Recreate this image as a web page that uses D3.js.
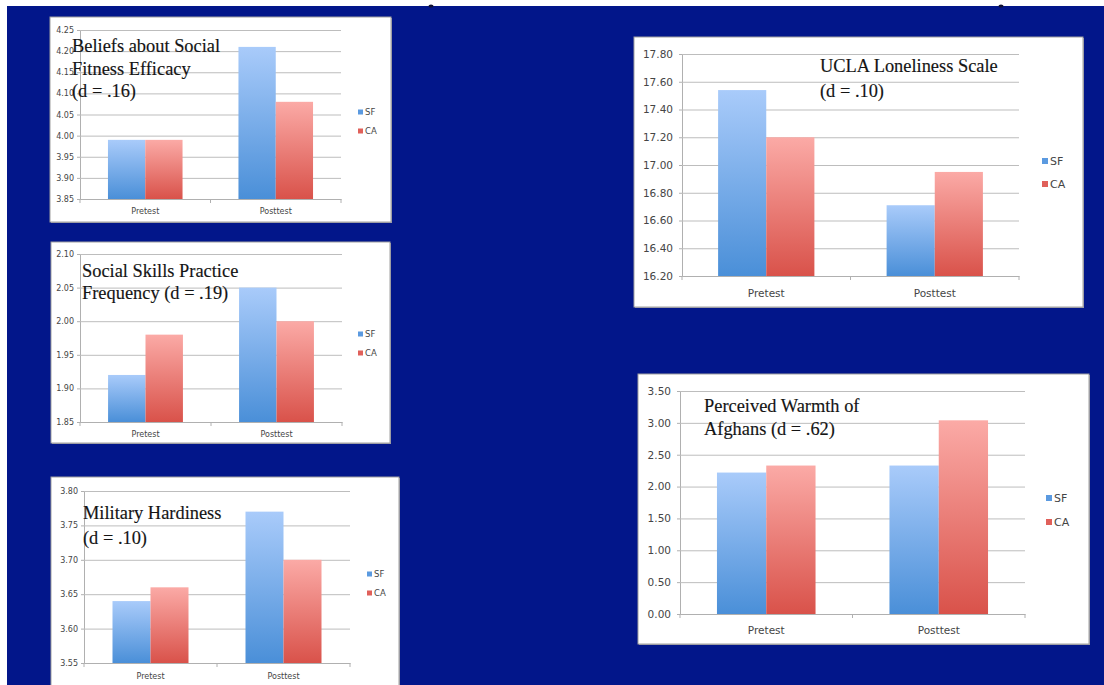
<!DOCTYPE html>
<html>
<head>
<meta charset="utf-8">
<script src="https://cdn.jsdelivr.net/npm/d3@7"></script>
<style>
  html, body { margin: 0; padding: 0; background: #ffffff; }
  svg { display: block; }
</style>
</head>
<body>
<svg id="chart" width="1104" height="685"></svg>
<script>
// ---------------- DATA ----------------
const categories = ["Pretest", "Posttest"];
const seriesNames = ["SF", "CA"];

const beliefsSF = [3.99, 4.21];
const beliefsCA = [3.99, 4.08];
const beliefsTicks = [3.85, 3.90, 3.95, 4.00, 4.05, 4.10, 4.15, 4.20, 4.25];
const beliefsTitle = ["Beliefs about Social", "Fitness Efficacy", "(d = .16)"];

const skillsSF = [1.92, 2.05];
const skillsCA = [1.98, 2.00];
const skillsTicks = [1.85, 1.90, 1.95, 2.00, 2.05, 2.10];
const skillsTitle = ["Social Skills Practice", "Frequency (d = .19)"];

const hardinessSF = [3.64, 3.77];
const hardinessCA = [3.66, 3.70];
const hardinessTicks = [3.55, 3.60, 3.65, 3.70, 3.75, 3.80];
const hardinessTitle = ["Military Hardiness", "(d = .10)"];

const lonelinessSF = [17.54, 16.71];
const lonelinessCA = [17.20, 16.95];
const lonelinessTicks = [16.20, 16.40, 16.60, 16.80, 17.00, 17.20, 17.40, 17.60, 17.80];
const lonelinessTitle = ["UCLA Loneliness Scale", "(d = .10)"];

const warmthSF = [2.22, 2.33];
const warmthCA = [2.33, 3.04];
const warmthTicks = [0.00, 0.50, 1.00, 1.50, 2.00, 2.50, 3.00, 3.50];
const warmthTitle = ["Perceived Warmth of", "Afghans (d = .62)"];

// ---------------- LAYOUT ----------------
const panels = [
  { sf: beliefsSF, ca: beliefsCA, ticks: beliefsTicks, title: beliefsTitle,
    box: [50, 17, 341, 205], plot: { l: 80, r: 341, t: 30, b: 199 }, fs: 8,
    legend: { x: 358, y1: 112, y2: 131, sq: 5 }, tx: 72, ty: 52, tdy: 22.7, catY: 211 },
  { sf: skillsSF, ca: skillsCA, ticks: skillsTicks, title: skillsTitle,
    box: [51, 242, 339, 201], plot: { l: 80, r: 342, t: 254, b: 422 }, fs: 8,
    legend: { x: 358, y1: 334, y2: 353, sq: 5 }, tx: 82, ty: 277, tdy: 21.7, catY: 434 },
  { sf: hardinessSF, ca: hardinessCA, ticks: hardinessTicks, title: hardinessTitle,
    box: [51, 477, 348, 240], plot: { l: 84, r: 350, t: 491, b: 663 }, fs: 8,
    legend: { x: 367, y1: 574, y2: 593, sq: 5 }, tx: 83, ty: 519, tdy: 25, catY: 676 },
  { sf: lonelinessSF, ca: lonelinessCA, ticks: lonelinessTicks, title: lonelinessTitle,
    box: [634, 37, 449, 270], plot: { l: 682, r: 1019, t: 54, b: 276 }, fs: 10.5,
    legend: { x: 1042, y1: 161, y2: 184, sq: 6 }, tx: 820, ty: 72, tdy: 24.7, catY: 293 },
  { sf: warmthSF, ca: warmthCA, ticks: warmthTicks, title: warmthTitle,
    box: [638, 374, 451, 270], plot: { l: 680, r: 1025, t: 391, b: 614 }, fs: 10.5,
    legend: { x: 1046, y1: 498, y2: 522, sq: 6 }, tx: 704, ty: 412, tdy: 23.3, catY: 630 }
];

const svg = d3.select("#chart");

// gradients
const defs = svg.append("defs");
function grad(id, top, bottom) {
  const g = defs.append("linearGradient").attr("id", id)
    .attr("x1", 0).attr("y1", 0).attr("x2", 0).attr("y2", 1);
  g.append("stop").attr("offset", "0%").attr("stop-color", top);
  g.append("stop").attr("offset", "100%").attr("stop-color", bottom);
}
grad("gSF", "#a9cbfa", "#4a8fd8");
grad("gCA", "#fbaaa6", "#d9524a");
const fills = { SF: "url(#gSF)", CA: "url(#gCA)" };
const legendFills = { SF: "#5b9ae0", CA: "#e0605a" };

// background
svg.append("rect").attr("x", 0).attr("y", 0).attr("width", 1104).attr("height", 685).attr("fill", "#ffffff");
svg.append("rect").attr("x", 7).attr("y", 6).attr("width", 1097).attr("height", 679).attr("fill", "#02168a");
svg.append("ellipse").attr("cx", 431).attr("cy", 6).attr("rx", 2.5).attr("ry", 1.5).attr("fill", "#111133");
svg.append("ellipse").attr("cx", 1001).attr("cy", 6).attr("rx", 2.5).attr("ry", 1.5).attr("fill", "#111133");

const fmt = d3.format(".2f");

panels.forEach(p => {
  const g = svg.append("g");
  const [bx, by, bw, bh] = p.box;
  // shadow + panel
  g.append("rect").attr("x", bx + 1).attr("y", by + 1).attr("width", bw).attr("height", bh).attr("fill", "#9a9aa8");
  g.append("rect").attr("x", bx).attr("y", by).attr("width", bw).attr("height", bh)
    .attr("fill", "#ffffff").attr("stroke", "#a0a0a0").attr("stroke-width", 1);

  const y = d3.scaleLinear().domain([p.ticks[0], p.ticks[p.ticks.length - 1]]).range([p.plot.b, p.plot.t]);
  const x0 = d3.scaleBand().domain(categories).range([p.plot.l, p.plot.r]).paddingInner(0).paddingOuter(0);
  const bw0 = x0.bandwidth() / 1.75;
  const x1 = d3.scaleBand().domain(seriesNames).range([0, bw0]);

  // gridlines
  const yAxis = d3.axisLeft(y).tickValues(p.ticks).tickFormat(fmt)
    .tickSize(-(p.plot.r - p.plot.l)).tickSizeOuter(0).tickPadding(p.fs > 9 ? 9 : 6);
  const ya = g.append("g").attr("transform", `translate(${p.plot.l},0)`).call(yAxis);
  ya.select(".domain").attr("stroke", "#b0b0b0");
  ya.selectAll(".tick line").attr("stroke", "#bdbdbd").attr("stroke-width", 1);
  ya.selectAll(".tick text").attr("fill", "#454545")
    .style("font-family", "'DejaVu Sans', sans-serif").style("font-size", p.fs + "px");
  // small outside tick marks
  ya.selectAll(".tick").append("line").attr("x1", -3).attr("x2", 0).attr("stroke", "#b0b0b0");

  // bars
  categories.forEach((c, i) => {
    const start = x0(c) + (x0.bandwidth() - bw0) / 2;
    [["SF", p.sf[i]], ["CA", p.ca[i]]].forEach(([s, v]) => {
      g.append("rect")
        .attr("x", start + x1(s)).attr("width", x1.bandwidth())
        .attr("y", y(v)).attr("height", y(p.ticks[0]) - y(v))
        .attr("fill", fills[s]);
    });
  });

  // x axis
  const xAxis = d3.axisBottom(x0).tickSize(0).tickPadding(0);
  const xa = g.append("g").attr("transform", `translate(0,${p.plot.b})`).call(xAxis);
  xa.select(".domain").attr("stroke", "#b0b0b0");
  xa.selectAll(".tick text").attr("fill", "#454545").attr("dy", null)
    .attr("y", p.catY - p.plot.b).attr("dominant-baseline", "central")
    .style("font-family", "'DejaVu Sans', sans-serif").style("font-size", p.fs + "px");
  // category boundary ticks
  [p.plot.l, x0(categories[1]), p.plot.r].forEach(tx => {
    g.append("line").attr("x1", tx).attr("x2", tx).attr("y1", p.plot.b).attr("y2", p.plot.b + 4)
      .attr("stroke", "#b0b0b0");
  });

  // legend
  [[seriesNames[0], p.legend.y1], [seriesNames[1], p.legend.y2]].forEach(([s, ly]) => {
    g.append("rect").attr("x", p.legend.x).attr("y", ly - p.legend.sq / 2)
      .attr("width", p.legend.sq).attr("height", p.legend.sq).attr("fill", legendFills[s]);
    g.append("text").attr("x", p.legend.x + p.legend.sq + 2).attr("y", ly)
      .attr("dominant-baseline", "central").attr("fill", "#454545")
      .style("font-family", "'DejaVu Sans', sans-serif").style("font-size", (p.fs + 0.5) + "px")
      .text(s);
  });

  // title
  const t = g.append("text").attr("fill", "#141414")
    .attr("stroke", "#141414").attr("stroke-width", 0.15)
    .style("font-family", "'Liberation Serif', 'Times New Roman', serif").style("font-size", "18.4px");
  p.title.forEach((line, k) => {
    t.append("tspan").attr("x", p.tx).attr("y", p.ty + k * p.tdy).text(line);
  });
});
</script>
</body>
</html>
